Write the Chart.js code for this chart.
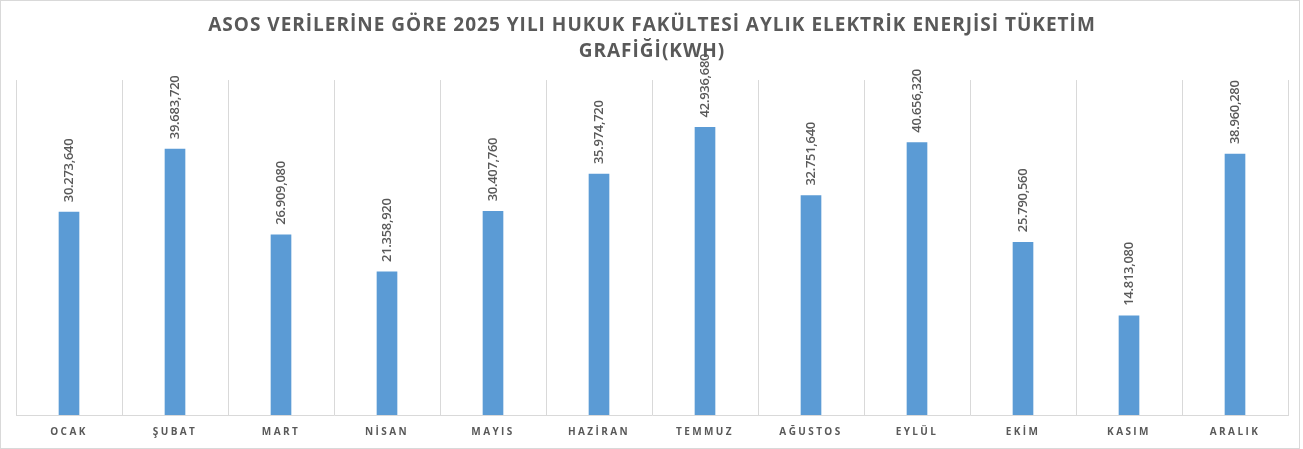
<!DOCTYPE html>
<html>
<head>
<meta charset="utf-8">
<script src="https://cdn.jsdelivr.net/npm/chart.js@4.4.1/dist/chart.umd.min.js"></script>
<style>
  html, body { margin: 0; padding: 0; background: #fff; }
  #wrap { width: 1303px; height: 449px; position: relative; }
</style>
</head>
<body>
<div id="wrap"><canvas id="c" width="1303" height="449"></canvas></div>
<script>
const categories = ['OCAK', 'ŞUBAT', 'MART', 'NİSAN', 'MAYIS', 'HAZİRAN', 'TEMMUZ', 'AĞUSTOS', 'EYLÜL', 'EKİM', 'KASIM', 'ARALIK'];
const consumption = [30273.640, 39683.720, 26909.080, 21358.920, 30407.760, 35974.720, 42936.680, 32751.640, 40656.320, 25790.560, 14813.080, 38960.280];
const titleLines = ['ASOS VERİLERİNE GÖRE 2025 YILI HUKUK FAKÜLTESİ AYLIK ELEKTRİK ENERJİSİ TÜKETİM', 'GRAFİĞİ(KWH)'];
const yMin = 0;
const yMax = 50000;

function fmt(v) {
  const fixed = v.toFixed(3);
  const parts = fixed.split('.');
  const intPart = parts[0].replace(/\B(?=(\d{3})+(?!\d))/g, '.');
  return intPart + ',' + parts[1];
}

const gray = '#595959';
const lineGray = '#d9d9d9';

const frameAndSpacing = {
  id: 'frameAndSpacing',
  afterLayout(chart) {
    const xs = chart.scales.x;
    if (!xs._wrapped) {
      const orig = xs.drawLabels.bind(xs);
      xs.drawLabels = function (area) {
        const ctx = chart.ctx;
        const prev = ctx.letterSpacing;
        ctx.letterSpacing = '2.4px';
        orig(area);
        ctx.letterSpacing = prev;
      };
      xs._wrapped = true;
    }
  },
  beforeDraw(chart) {
    const ctx = chart.ctx;
    ctx.save();
    ctx.fillStyle = '#fff';
    ctx.fillRect(0, 0, chart.width, chart.height);
    ctx.strokeStyle = lineGray;
    ctx.lineWidth = 1;
    ctx.strokeRect(0.5, 0.5, chart.width - 4, chart.height - 1);
    ctx.restore();
    ctx.letterSpacing = '1px';
  },
  afterDatasetsDraw(chart) {
    const ctx = chart.ctx;
    const meta = chart.getDatasetMeta(0);
    ctx.save();
    ctx.letterSpacing = '-0.3px';
    ctx.font = '600 13px "Open Sans"';
    ctx.fillStyle = gray;
    ctx.textAlign = 'left';
    ctx.textBaseline = 'middle';
    meta.data.forEach((bar, i) => {
      const v = chart.data.datasets[0].data[i];
      ctx.save();
      ctx.translate(bar.x, bar.y - 10);
      ctx.rotate(-Math.PI / 2);
      ctx.fillText(fmt(v), 0, 0);
      ctx.restore();
    });
    ctx.restore();
  }
};

new Chart(document.getElementById('c'), {
  type: 'bar',
  data: {
    labels: categories,
    datasets: [{
      data: consumption,
      backgroundColor: '#5b9bd5',
      borderWidth: 0,
      barThickness: 20
    }]
  },
  options: {
    responsive: false,
    animation: false,
    layout: { padding: { left: 16, right: 15, top: 0, bottom: 0 } },
    plugins: {
      legend: { display: false },
      tooltip: { enabled: false },
      title: {
        display: true,
        text: titleLines,
        color: gray,
        font: { family: '"Open Sans"', size: 19, weight: 'bold', lineHeight: 1.37 },
        padding: { top: 13, bottom: 15 }
      }
    },
    scales: {
      x: {
        offset: true,
        grid: { display: true, offset: true, color: lineGray, drawTicks: false, lineWidth: 1 },
        border: { display: true, color: lineGray },
        ticks: {
          color: gray,
          autoSkip: false,
          maxRotation: 0,
          padding: 11,
          font: { family: '"Open Sans"', size: 10, weight: 'bold' }
        }
      },
      y: {
        display: false,
        min: yMin,
        max: yMax
      }
    }
  },
  plugins: [frameAndSpacing]
});
</script>
</body>
</html>
